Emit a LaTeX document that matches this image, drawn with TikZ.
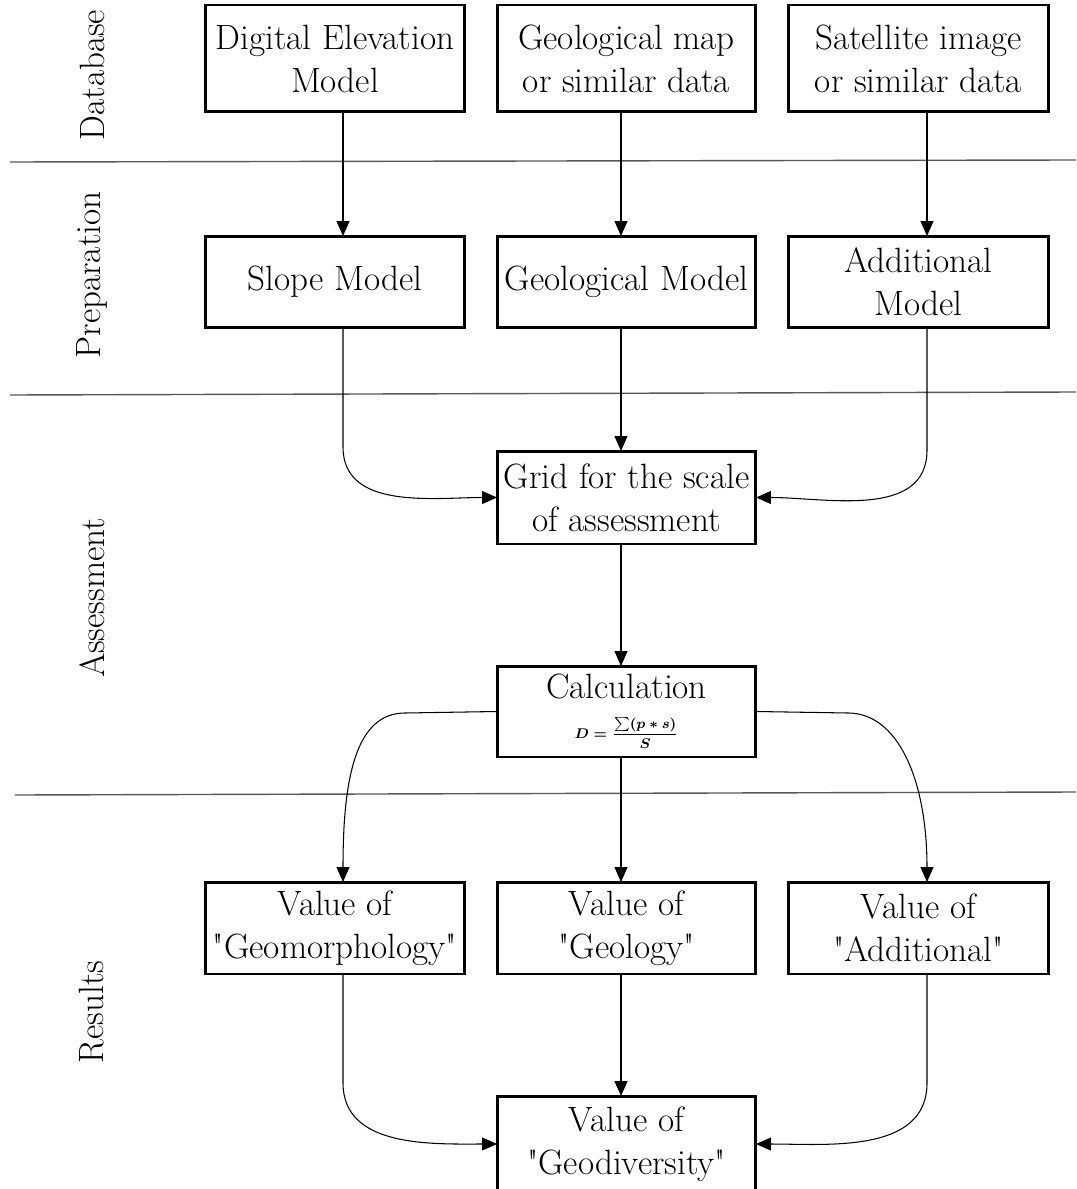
\documentclass[tikz,border=0pt]{standalone}
\usepackage{amsmath}
\usepackage{fontspec}
\setmainfont{Latin Modern Roman}[Ligatures=TeXOff]
\usetikzlibrary{arrows.meta}
\begin{document}
\begin{tikzpicture}[x=0.02cm,y=-0.02cm,
  box/.style={draw,line width=1.7pt,align=center,inner sep=0pt,outer sep=0pt,
    minimum width=5.2cm,font=\fontsize{20}{24.5}\selectfont},
  arr/.style={line width=0.6pt,-{Triangle[length=0.3cm,width=0.26cm]}},
  sep/.style={line width=0.8pt,draw=black!65},
  lab/.style={rotate=90,font=\fontsize{20}{24.5}\selectfont}]
\useasboundingbox (0,0) rectangle (1076,1189);
\clip (0,0) rectangle (1076,1189);
% separators
\draw[sep] (10,162) -- (1076,160);
\draw[sep] (10,395) -- (1076,392);
\draw[sep] (15,795) -- (1076,792);
% side labels
\node[lab] (ldb) at (92,75) {Database};
\node[lab] (lprep) at (92,275) {Preparation};
\node[lab] (lass) at (92,598) {Assessment};
\node[lab] (lres) at (92,1012) {Results};
% row 1
\node[box,minimum height=2.14cm] (dem) at (335,58.5) {Digital Elevation\\Model};
\node[box,minimum height=2.14cm,minimum width=5.18cm] (geo) at (626.5,58.5) {Geological map\\or similar data};
\node[box,minimum height=2.14cm,minimum width=5.22cm] (sat) at (918.5,58.5) {Satellite image\\or similar data};
% row 2
\node[box,minimum height=1.84cm] (slope) at (335,282) {Slope Model};
\node[box,minimum height=1.84cm,minimum width=5.18cm] (geom) at (626.5,282) {Geological Model};
\node[box,minimum height=1.84cm,minimum width=5.22cm] (addm) at (918.5,282) {Additional\\Model};
% assessment
\node[box,minimum height=1.86cm,minimum width=5.18cm] (grid) at (626.5,497.5) {Grid for the scale\\of assessment};
\node[box,minimum height=1.82cm,minimum width=5.18cm] (calc) at (626.5,711.5)
  {Calculation\\[-2pt]{\fontsize{8.5}{10}\selectfont$\displaystyle\boldsymbol{D=\frac{\sum(p\ast s)}{S}}$}};
% results
\node[box,minimum height=1.84cm] (vgm) at (335,928) {Value of\\"Geomorphology"};
\node[box,minimum height=1.84cm,minimum width=5.18cm] (vgl) at (626.5,928) {Value of\\"Geology"};
\node[box,minimum height=1.84cm,minimum width=5.22cm] (vad) at (918.5,928) {Value of\\"Additional"};
\node[box,minimum height=1.92cm,minimum width=5.18cm] (vgd) at (626.5,1144) {Value of\\"Geodiversity"};
% coordinates for bends
\coordinate (b1) at (343,447);
\coordinate (b2) at (927,450);
\coordinate (c1) at (405,713);
\coordinate (c2) at (848,713);
\coordinate (e1) at (343,1083);
\coordinate (e2) at (927,1083);
% straight arrows
\draw[arr] ([xshift=0.16cm]dem.south) -- ([xshift=0.16cm]slope.north);
\draw[arr] ([xshift=-0.11cm]geo.south) -- ([xshift=-0.11cm]geom.north);
\draw[arr] ([xshift=0.17cm]sat.south) -- ([xshift=0.17cm]addm.north);
\draw[arr] ([xshift=-0.11cm]geom.south) -- ([xshift=-0.11cm]grid.north);
\draw[arr] ([xshift=-0.11cm]grid.south) -- ([xshift=-0.11cm]calc.north);
\draw[arr] ([xshift=-0.11cm]calc.south) -- ([xshift=-0.11cm]vgl.north);
\draw[arr] ([xshift=-0.11cm]vgl.south) -- ([xshift=-0.11cm]vgd.north);
% curved arrows
\draw[arr] ([xshift=0.16cm]slope.south) -- (b1) to[out=-90,in=180] (grid.west);
\draw[arr] ([xshift=0.17cm]addm.south) -- (b2) to[out=-90,in=0] (grid.east);
\draw[arr] (calc.west) -- (c1) .. controls (355,713) and (343,780) .. ([xshift=0.16cm]vgm.north);
\draw[arr] (calc.east) -- (c2) .. controls (898,713) and (927,780) .. ([xshift=0.17cm]vad.north);
\draw[arr] ([xshift=0.16cm]vgm.south) -- (e1) to[out=-90,in=180] (vgd.west);
\draw[arr] ([xshift=0.17cm]vad.south) -- (e2) to[out=-90,in=0] (vgd.east);
\end{tikzpicture}
\end{document}
